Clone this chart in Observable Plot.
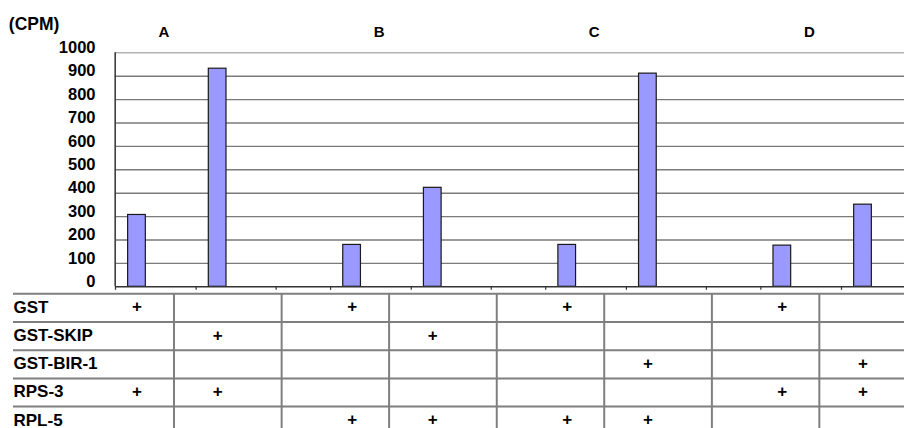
<!DOCTYPE html>
<html><head><meta charset="utf-8">
<script src="https://cdn.jsdelivr.net/npm/d3@7"></script>
<script src="https://cdn.jsdelivr.net/npm/@observablehq/plot@0.6"></script>
<style>
html,body{margin:0;padding:0;background:#fff;overflow:hidden;}
#chart{position:relative;width:904px;height:428px;}
#chart svg{display:block;}
</style></head><body><div id="chart"></div>
<script>
// ---- data ----
const groups = ["A", "B", "C", "D"];
const conditions = ["A1", "A2", "B1", "B2", "C1", "C2", "D1", "D2"];
const cpm = [307, 932, 179, 423, 179, 911, 176, 351];
const yTicks = [0, 100, 200, 300, 400, 500, 600, 700, 800, 900, 1000];
const yLabel = "(CPM)";
const rows = ["GST", "GST-SKIP", "GST-BIR-1", "RPS-3", "RPL-5"];
const gst     = ["+", "",  "+", "",  "+", "",  "+", ""];
const gstSkip = ["",  "+", "",  "+", "",  "",  "",  ""];
const gstBir1 = ["",  "",  "",  "",  "",  "+", "",  "+"];
const rps3    = ["+", "+", "",  "",  "",  "",  "+", "+"];
const rpl5    = ["",  "",  "+", "+", "+", "+", "",  ""];

// ---- derived tables ----
const bars = conditions.map((c, i) => ({cond: c, cpm: cpm[i]}));
const firstBars = conditions.filter(c => c.endsWith("1"));
const secondBars = conditions.filter(c => c.endsWith("2"));
const marksByRow = [gst, gstSkip, gstBir1, rps3, rpl5];
const pluses = rows.flatMap((r, i) =>
  conditions.map((c, j) => ({row: r, cond: c, mark: marksByRow[i][j]}))).filter(d => d.mark);

// ---- layout: band slots (bars plus empty spacer slots) ----
const slots = [];
groups.forEach((g, i) => {
  slots.push(g + "1", g + "·a", g + "·b", g + "2");
  if (i < groups.length - 1) for (let k = 0; k < 4; k++) slots.push(g + "·g" + k);
});
const xOpts = () => ({type: "band", domain: slots.slice(), paddingInner: 0.342, paddingOuter: 0.842, align: 0.279, round: false, axis: null});
const font = "'Liberation Sans', Arial, Helvetica, sans-serif";
const baseStyle = () => ({fontFamily: font, fontWeight: "bold", fontSize: "16px", background: "white", color: "black", overflow: "visible"});
const gridColor = "#7a7a7a";
const tableColor = "#7f7f7f";

const chart = Plot.plot({
  width: 904, height: 290,
  marginLeft: 115, marginRight: 0, marginTop: 52.3, marginBottom: 3.7,
  style: baseStyle(),
  x: xOpts(),
  y: {domain: [0, 1000], axis: null},
  marks: [
    Plot.ruleY(yTicks.filter(v => v > 0 && v < 1000), {y: d => d, stroke: gridColor, strokeWidth: 1.4}),
    Plot.ruleY([1000], {y: d => d, stroke: "#b3b3b3", strokeWidth: 1.4}),
    Plot.barY(bars, {x: "cond", y: "cpm", fill: "#9999ff", stroke: "#1a1a1a", strokeWidth: 1.2}),
    Plot.ruleY([0], {y: d => d, stroke: "#333", strokeWidth: 1.5}),
    Plot.ruleX(conditions.slice(0, 1), {x: d => d, y1: 0, y2: 1000, dx: -21.8, stroke: "#333", strokeWidth: 1.5}),
    Plot.ruleX(conditions, {x: d => d, y1: 0, y2: 0, insetBottom: -3.5, dx: -21.5, stroke: "#333", strokeWidth: 1.2}),
    Plot.ruleX(secondBars, {x: d => d, y1: 0, y2: 0, insetBottom: -3.5, dx: 58.5, stroke: "#333", strokeWidth: 1.2}),
    Plot.text(yTicks, {y: d => d, text: d => String(d), frameAnchor: "left", textAnchor: "end", lineAnchor: "middle", dx: -20, dy: -5, fontSize: 16.5}),
    Plot.text(groups, {x: g => g + "1", text: d => d, frameAnchor: "top", lineAnchor: "middle", dx: 27, dy: -20.5, fontSize: 15}),
    Plot.text([yLabel], {text: d => d, frameAnchor: "top-left", textAnchor: "start", lineAnchor: "middle", dx: -106.7, dy: -28.1, fontSize: 17.5})
  ]
});

const table = Plot.plot({
  width: 904, height: 138,
  marginLeft: 115, marginRight: 0, marginTop: 0, marginBottom: 0,
  style: baseStyle(),
  x: xOpts(),
  y: {type: "band", domain: rows, range: [3.3, 144.3], paddingInner: 0, paddingOuter: 0, round: false, axis: null},
  marks: [
    Plot.ruleY(rows, {y: d => d, dy: -14.1, insetLeft: -102, stroke: tableColor, strokeWidth: 2}),
    Plot.ruleX(firstBars, {x: d => d, dx: 37, insetTop: 3.3, stroke: tableColor, strokeWidth: 2}),
    Plot.ruleX(secondBars, {x: d => d, dx: 64, insetTop: 3.3, stroke: tableColor, strokeWidth: 2}),
    Plot.text(rows, {y: d => d, text: d => d, frameAnchor: "left", textAnchor: "start", lineAnchor: "middle", dx: -102, dy: -0.5, fontSize: 17}),
    Plot.text(pluses, {x: "cond", y: "row", text: "mark", lineAnchor: "middle", dy: -1, fontSize: 17})
  ]
});

const root = document.getElementById("chart");
root.appendChild(chart);
root.appendChild(table);
</script></body></html>
